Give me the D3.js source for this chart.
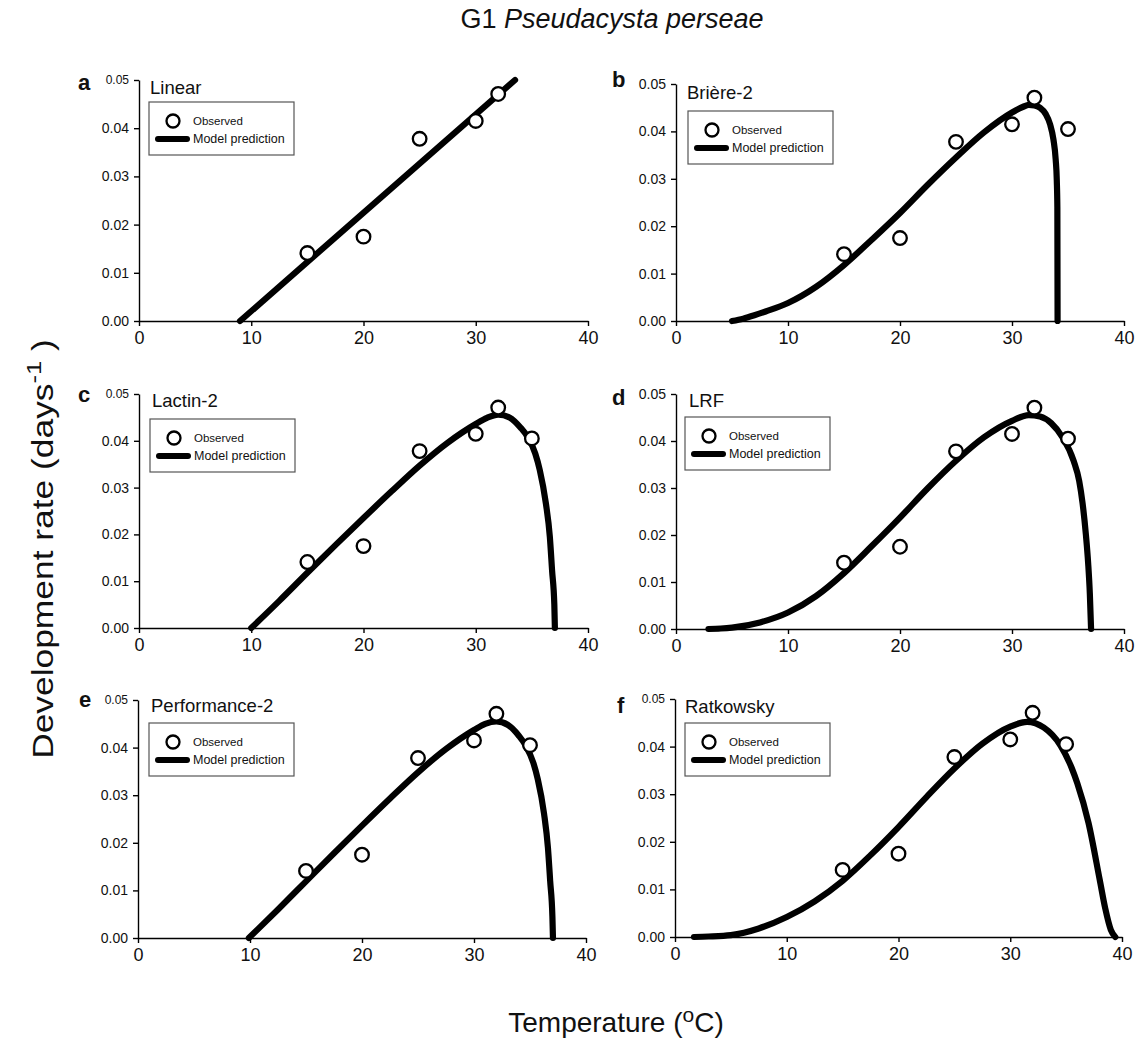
<!DOCTYPE html>
<html>
<head>
<meta charset="utf-8">
<script src="https://cdn.jsdelivr.net/npm/d3@7"></script>
<style>
  body { margin: 0; background: #fff; }
  svg text { font-family: "Liberation Sans", Arial, Helvetica, sans-serif; fill: #111; }
</style>
</head>
<body>
<svg id="chart" width="1144" height="1044"></svg>
<script>
// Observed development rates (days^-1) at constant temperatures (°C)
const obsTemp = [15, 20, 25, 30, 32, 35];
const obsRate = [0.0141, 0.0175, 0.0378, 0.0415, 0.0471, 0.0405];
// The linear model uses only the points of the linear range (35 °C left out)
const linearObsTemp = [15, 20, 25, 30, 32];
const linearObsRate = [0.0141, 0.0175, 0.0378, 0.0415, 0.0471];

// Model predictions
const linearTemp = [9.0, 33.5];
const linearRate = [0, 0.050];

const briereTemp = [5, 6, 7, 8, 10, 12.5, 15, 17.5, 20, 22.5, 25, 27.5, 30, 31, 31.5, 32, 32.5, 33, 33.4, 33.7, 33.9, 34.0, 34.05, 34.07];
const briereRate = [0, 0.0005, 0.0012, 0.0020, 0.0038, 0.0072, 0.0118, 0.0172, 0.0228, 0.0288, 0.0345, 0.0398, 0.0440, 0.0452, 0.0456, 0.0455, 0.0450, 0.0437, 0.0415, 0.0383, 0.0341, 0.0296, 0.0240, 0];

const lactinTemp = [10, 12.5, 15, 17.5, 20, 22.5, 25, 27.5, 30, 31, 32, 33, 34, 34.6, 35.3, 35.7, 36.25, 36.6, 36.8, 37.0, 37.05];
const lactinRate = [0, 0.0058, 0.0118, 0.0177, 0.0235, 0.0292, 0.0347, 0.0396, 0.0436, 0.0449, 0.0456, 0.0450, 0.0428, 0.0409, 0.0373, 0.0338, 0.0266, 0.0195, 0.0123, 0.0050, 0];

const lrfTemp = [2.9, 4, 5, 7.5, 10, 12.5, 15, 17.5, 20, 22.5, 25, 27.5, 30, 31.5, 32.5, 33.5, 34.5, 35.5, 36.0, 36.3, 36.6, 36.8, 36.95, 37.06];
const lrfRate = [0, 0.0001, 0.0003, 0.0014, 0.0035, 0.0070, 0.0119, 0.0177, 0.0237, 0.0300, 0.0358, 0.0408, 0.0443, 0.0455, 0.0452, 0.0438, 0.0408, 0.0358, 0.0315, 0.0268, 0.0200, 0.0140, 0.0075, 0];

const perfTemp = [9.9, 12.5, 15, 17.5, 20, 22.5, 25, 27.5, 30, 31, 32, 33, 34, 34.6, 35.3, 35.7, 36.25, 36.6, 36.8, 37.0, 37.05];
const perfRate = [0, 0.0060, 0.0119, 0.0178, 0.0236, 0.0293, 0.0348, 0.0397, 0.0437, 0.0450, 0.0455, 0.0448, 0.0425, 0.0405, 0.0368, 0.0333, 0.0262, 0.0190, 0.0120, 0.0045, 0];

const ratkTemp = [1.7, 3, 5, 7.5, 10, 12.5, 15, 17.5, 20, 22.5, 25, 27.5, 30, 31.5, 33, 34.5, 35.5, 36, 37, 38, 38.5, 39, 39.4];
const ratkRate = [0, 0.0001, 0.0004, 0.0018, 0.0042, 0.0075, 0.0118, 0.0172, 0.0231, 0.0294, 0.0354, 0.0406, 0.0442, 0.0452, 0.0440, 0.0402, 0.0355, 0.0323, 0.0240, 0.0121, 0.0060, 0.0015, 0];

// Axis ticks
const xTicks = [0, 10, 20, 30, 40];
const yTicks = [0, 0.01, 0.02, 0.03, 0.04, 0.05];

// Panel labels and model names
const panelLetters = ["a", "b", "c", "d", "e", "f"];
const modelNames = ["Linear", "Brière-2", "Lactin-2", "LRF", "Performance-2", "Ratkowsky"];
const legendLabels = ["Observed", "Model prediction"];

const svg = d3.select("#chart");

// Plot frames of the 3 x 2 grid (left, right, top, bottom), plus offsets of the inner labels;
// topTickSize is the font size of the uppermost y tick label
const frames = [
  { l: 139, r: 588, t: 80,  b: 321, box: [10, 22], name: [11, 14], letter: [-61, 10], topTickSize: 12 },
  { l: 676, r: 1124, t: 84,  b: 321, box: [12, 27], name: [11, 15], letter: [-64, 3],  topTickSize: 14 },
  { l: 139, r: 588, t: 394, b: 628, box: [11, 25], name: [13, 13], letter: [-61, 8],  topTickSize: 12 },
  { l: 676, r: 1124, t: 394, b: 629, box: [9, 23],  name: [13, 13], letter: [-64, 11], topTickSize: 14 },
  { l: 138, r: 586, t: 700, b: 938, box: [11, 23], name: [13, 12], letter: [-59, 7],  topTickSize: 12 },
  { l: 675, r: 1122, t: 699, b: 937, box: [10, 24], name: [10, 14], letter: [-58, 14], topTickSize: 12 }
];

const curves = [
  [linearTemp, linearRate],
  [briereTemp, briereRate],
  [lactinTemp, lactinRate],
  [lrfTemp, lrfRate],
  [perfTemp, perfRate],
  [ratkTemp, ratkRate]
];

frames.forEach((f, i) => {
  const x = d3.scaleLinear().domain([0, 40]).range([f.l, f.r]);
  const y = d3.scaleLinear().domain([0, 0.05]).range([f.b, f.t]);
  const g = svg.append("g");

  // Axes
  const xAxis = g.append("g")
    .attr("transform", `translate(0,${f.b})`)
    .call(d3.axisBottom(x).tickValues(xTicks).tickSize(5).tickSizeOuter(0).tickPadding(5).tickFormat(d3.format("d")));
  xAxis.selectAll("text").attr("font-size", 18).attr("fill", "#111");

  const yAxis = g.append("g")
    .attr("transform", `translate(${f.l},0)`)
    .call(d3.axisLeft(y).tickValues(yTicks).tickSize(5).tickSizeOuter(0).tickPadding(5).tickFormat(d3.format(".2f")));
  yAxis.selectAll("text")
    .attr("font-size", d => (d === 0.05 ? f.topTickSize : 14))
    .attr("fill", "#111");

  [xAxis, yAxis].forEach(a => {
    a.select(".domain").attr("stroke", "#000").attr("stroke-width", 1.4);
    a.selectAll(".tick line").attr("stroke", "#000").attr("stroke-width", 1.4);
  });

  // Model prediction curve
  const [ct, cr] = curves[i];
  const pts = ct.map((t, k) => [t, cr[k]]);
  const line = d3.line().x(d => x(d[0])).y(d => y(d[1])).curve(d3.curveMonotoneX);
  g.append("path")
    .datum(pts)
    .attr("d", line)
    .attr("fill", "none")
    .attr("stroke", "#000")
    .attr("stroke-width", 6.2)
    .attr("stroke-linecap", "round")
    .attr("stroke-linejoin", "round");

  // Observed points
  const oT = i === 0 ? linearObsTemp : obsTemp;
  const oR = i === 0 ? linearObsRate : obsRate;
  g.selectAll("circle.obs")
    .data(oT.map((t, k) => [t, oR[k]]))
    .join("circle")
    .attr("class", "obs")
    .attr("cx", d => x(d[0]))
    .attr("cy", d => y(d[1]))
    .attr("r", 6.8)
    .attr("fill", "#fff")
    .attr("stroke", "#000")
    .attr("stroke-width", 2.3);

  // Panel letter and model name
  g.append("text")
    .attr("x", f.l + f.letter[0])
    .attr("y", f.t + f.letter[1])
    .attr("font-size", 22)
    .attr("font-weight", "bold")
    .text(panelLetters[i]);

  g.append("text")
    .attr("x", f.l + f.name[0])
    .attr("y", f.t + f.name[1])
    .attr("font-size", 18.5)
    .text(modelNames[i]);

  // Legend
  const lg = g.append("g").attr("transform", `translate(${f.l + f.box[0]},${f.t + f.box[1]})`);
  lg.append("rect")
    .attr("width", 145).attr("height", 53)
    .attr("fill", "#fff").attr("stroke", "#555").attr("stroke-width", 1.2);
  lg.append("circle")
    .attr("cx", 24).attr("cy", 19).attr("r", 6.5)
    .attr("fill", "#fff").attr("stroke", "#000").attr("stroke-width", 2.3);
  lg.append("line")
    .attr("x1", 9).attr("x2", 38).attr("y1", 37).attr("y2", 37)
    .attr("stroke", "#000").attr("stroke-width", 6).attr("stroke-linecap", "round");
  lg.append("text").attr("x", 44).attr("y", 23).attr("font-size", 11.5).text(legendLabels[0]);
  lg.append("text").attr("x", 44).attr("y", 41).attr("font-size", 12.5).text(legendLabels[1]);
});

// Figure title
const title = svg.append("text")
  .attr("x", 612).attr("y", 28)
  .attr("text-anchor", "middle")
  .attr("font-size", 27);
title.append("tspan").text("G1 ");
title.append("tspan").attr("font-style", "italic").text("Pseudacysta perseae");

// Shared x-axis title
const xt = svg.append("text")
  .attr("x", 616).attr("y", 1032)
  .attr("text-anchor", "middle")
  .attr("font-size", 28);
xt.append("tspan").text("Temperature (");
xt.append("tspan").attr("font-size", 21).attr("dy", -10).text("o");
xt.append("tspan").attr("dy", 10).text("C)");

// Shared y-axis title, stretched along its reading direction to span the panel rows
const yt = svg.append("text")
  .attr("text-anchor", "middle")
  .attr("font-size", 29);
yt.append("tspan").text("Development rate (days");
yt.append("tspan").attr("font-size", 21).attr("dy", -12).text("-1");
yt.append("tspan").attr("dy", 12).text(" )");
const natural = yt.node().getBBox().width;
const stretch = 420 / natural;
yt.attr("transform", `translate(53,549) rotate(-90) scale(${stretch},1)`);
</script>
</body>
</html>
